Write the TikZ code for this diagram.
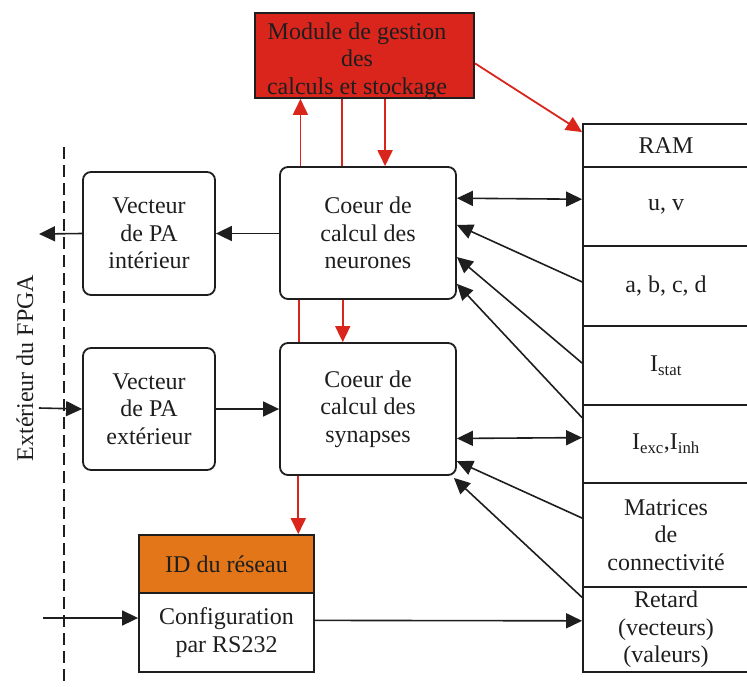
\documentclass[tikz,border=0pt]{standalone}
\usepackage{fontspec}
\setmainfont{Liberation Serif}
\usetikzlibrary{arrows.meta,calc}
\definecolor{modred}{RGB}{218,37,29}
\definecolor{idorange}{RGB}{227,118,25}
\definecolor{inkc}{RGB}{30,30,30}
\begin{document}
\begin{tikzpicture}[x=1pt,y=-1pt,
  font=\fontsize{24}{27.5}\selectfont,
  box/.style={draw=inkc, line width=1.8pt, rounded corners=8pt, align=center, inner sep=0pt, text=inkc},
  cell/.style={draw=inkc, line width=1.8pt, align=center, inner sep=0pt, minimum width=166pt, text=inkc},
  sq/.style={draw=inkc, line width=1.8pt, align=center, inner sep=0pt, text=inkc},
  arr/.style={draw=inkc, line width=1.6pt, -{Triangle[length=16pt,width=15pt]}},
  dbl/.style={draw=inkc, line width=1.6pt, {Triangle[length=16pt,width=15pt]}-{Triangle[length=16pt,width=15pt]}},
  redarr/.style={draw=modred, line width=1.8pt, -{Triangle[length=16pt,width=15pt]}},
  redline/.style={draw=modred, line width=1.8pt}
]
\useasboundingbox (0,0) rectangle (747,686);

% management module
\node[sq, fill=modred, minimum width=219pt, minimum height=85pt] (mod) at (364.5,55.5) {};
\node[align=center, text=inkc, inner sep=0pt] (modlbl) at (357,61) {Module de gestion\\des\\calculs et stockage};

% cores
\node[box, minimum width=176pt, minimum height=132pt] (neur) at (368,233) {Coeur de\\calcul des\\neurones};
\node[box, minimum width=176pt, minimum height=132pt] (syn) at (368,409) {Coeur de\\calcul des\\synapses};

% vectors
\node[box, minimum width=132pt, minimum height=123pt] (vint) at (149,233.5) {Vecteur\\de PA\\intérieur};
\node[box, minimum width=132pt, minimum height=122pt] (vext) at (149,409) {Vecteur\\de PA\\extérieur};

% ID / config
\node[sq, fill=idorange, minimum width=175pt, minimum height=58pt] (id) at (226.5,564) {ID du réseau};
\node[sq, minimum width=175pt, minimum height=79pt] (cfg) at (226.5,632.5) {Configuration\\par RS232};

% RAM column
\node[cell, minimum height=43pt] (ram) at (666,145.5) {RAM};
\node[cell, minimum height=79pt] (uv) at (666,206.5) {u, v};
\node[cell, minimum height=80pt] (abcd) at (666,286) {a, b, c, d};
\node[cell, minimum height=79pt] (istat) at (666,365.5) {I\textsubscript{stat}};
\node[cell, minimum height=78pt] (iexc) at (666,444) {I\textsubscript{exc},I\textsubscript{inh}};
\node[cell, minimum height=104pt] (mat) at (666,535) {Matrices\\de\\connectivité};
\node[cell, minimum height=85pt] (ret) at (666,629.5) {Retard\\(vecteurs)\\(valeurs)};

% FPGA boundary
\coordinate (dtop) at (64,147);
\coordinate (dbot) at (64,686);
\draw[draw=inkc, line width=1.5pt, dash pattern=on 12pt off 6pt] (dtop) -- (dbot);
\node[rotate=90, text=inkc, inner sep=0pt] (fpga) at (25,368) {Extérieur du FPGA};

% free ends outside
\coordinate (outA) at (39,234);
\coordinate (inB) at (39,408);
\coordinate (inC) at (43,618);

% red connections
\coordinate (r1) at ($(neur.north west)!0.12!(neur.north east)$);
\coordinate (r2) at ($(neur.north west)!0.354!(neur.north east)$);
\coordinate (r3) at ($(neur.north west)!0.596!(neur.north east)$);
\draw[redarr] (r1) -- (r1 |- mod.south);
\draw[redline] (r2 |- mod.south) -- (r2);
\draw[redarr] (r3 |- mod.south) -- (r3);
\draw[redarr] ($(mod.north east)!0.59!(mod.south east)$) -- ($(ram.north west)!0.2!(ram.south west)$);

\coordinate (s1) at ($(syn.north west)!0.114!(syn.north east)$);
\coordinate (s2) at ($(syn.north west)!0.358!(syn.north east)$);
\draw[redline] (s1 |- neur.south) -- (s1);
\draw[redarr] (s2 |- neur.south) -- (s2);
\coordinate (s3) at ($(syn.south west)!0.108!(syn.south east)$);
\draw[redarr] (s3) -- (s3 |- id.north);

% left side
\draw[arr] (neur.west |- vint.east) -- (vint.east);
\draw[arr] (vint.west) -- (outA);
\draw[arr] (inB) -- (vext.west);
\draw[arr] (vext.east) -- (vext.east -| syn.west);
\draw[arr] (inC) -- (inC -| cfg.west);

% right side
\draw[dbl] ($(neur.north east)!0.24!(neur.south east)$) -- ($(uv.north west)!0.41!(uv.south west)$);
\draw[arr] ($(abcd.north west)!0.45!(abcd.south west)$) -- ($(neur.north east)!0.44!(neur.south east)$);
\draw[arr] ($(istat.north west)!0.47!(istat.south west)$) -- ($(neur.north east)!0.68!(neur.south east)$);
\draw[arr] ($(iexc.north west)!0.17!(iexc.south west)$) -- ($(neur.north east)!0.88!(neur.south east)$);
\draw[dbl] ($(syn.north east)!0.72!(syn.south east)$) -- ($(iexc.north west)!0.42!(iexc.south west)$);
\draw[arr] ($(mat.north west)!0.34!(mat.south west)$) -- ($(syn.north east)!0.89!(syn.south east)$);
\draw[arr] ($(ret.north west)!0.13!(ret.south west)$) -- ($(syn.south east)+(-3,2)$);
\draw[arr] ($(cfg.north east)!0.35!(cfg.south east)$) -- ($(ret.north west)!0.4!(ret.south west)$);
\end{tikzpicture}
\end{document}
